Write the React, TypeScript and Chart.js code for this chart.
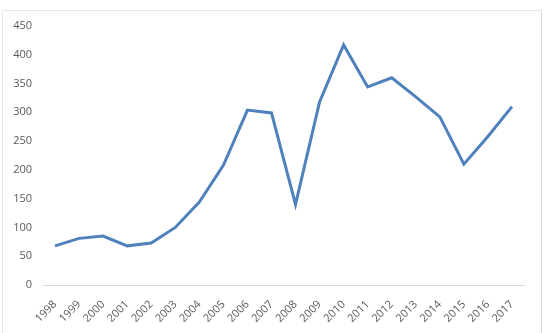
import React, { useEffect, useRef } from "react";
import { Chart, registerables } from "chart.js";

Chart.register(...registerables);

const years = ["1998","1999","2000","2001","2002","2003","2004","2005","2006","2007","2008","2009","2010","2011","2012","2013","2014","2015","2016","2017"];
const values = [68, 81, 85, 68, 73, 100, 144, 208, 304, 299, 140, 318, 417, 344, 360, 327, 292, 210, 258, 310];
const yTicks = [0, 50, 100, 150, 200, 250, 300, 350, 400, 450];

export default function App() {
  const ref = useRef<HTMLCanvasElement | null>(null);
  useEffect(() => {
    if (!ref.current) return;
    const chart = new Chart(ref.current, {
      type: "line",
      data: {
        labels: years,
        datasets: [
          {
            data: values,
            borderColor: "#4f81bd",
            borderWidth: 3,
            pointRadius: 0,
            tension: 0,
            fill: false,
          },
        ],
      },
      options: {
        animation: false,
        responsive: false,
        maintainAspectRatio: false,
        layout: { padding: { left: 0, right: 24, top: 26, bottom: 0 } },
        plugins: { legend: { display: false }, tooltip: { enabled: false } },
        scales: {
          x: {
            offset: true,
            grid: { display: false, drawTicks: false },
            border: { display: true, color: "#d9d9d9", width: 1 },
            ticks: {
              color: "#595959",
              font: { family: "Open Sans", size: 11 },
              maxRotation: 45,
              minRotation: 45,
              autoSkip: false,
              padding: 13,
            },
            afterFit: (s: any) => { s.height = 48; },
          },
          y: {
            min: 0,
            max: 450,
            afterBuildTicks: (s: any) => { s.ticks = yTicks.map((v) => ({ value: v })); },
            grid: { display: false, drawTicks: false },
            border: { display: false },
            ticks: {
              color: "#595959",
              font: { family: "Open Sans", size: 11 },
              padding: 11,
            },
            afterFit: (s: any) => { s.width = 43; },
          },
        },
      },
    });
    return () => chart.destroy();
  }, []);
  return (
    <div style={{ position: "fixed", left: 0, top: 0, width: 548, height: 333, background: "#fff" }}>
      <canvas ref={ref} width={548} height={333} style={{ position: "absolute", left: 0, top: 0 }} />
      <div style={{ position: "absolute", left: 2, top: 10, width: 538, height: 340, borderTop: "1px solid #e6e6e6", borderLeft: "1px solid #e6e6e6", borderRight: "1px solid #d9d9d9", pointerEvents: "none" }} />
    </div>
  );
}
